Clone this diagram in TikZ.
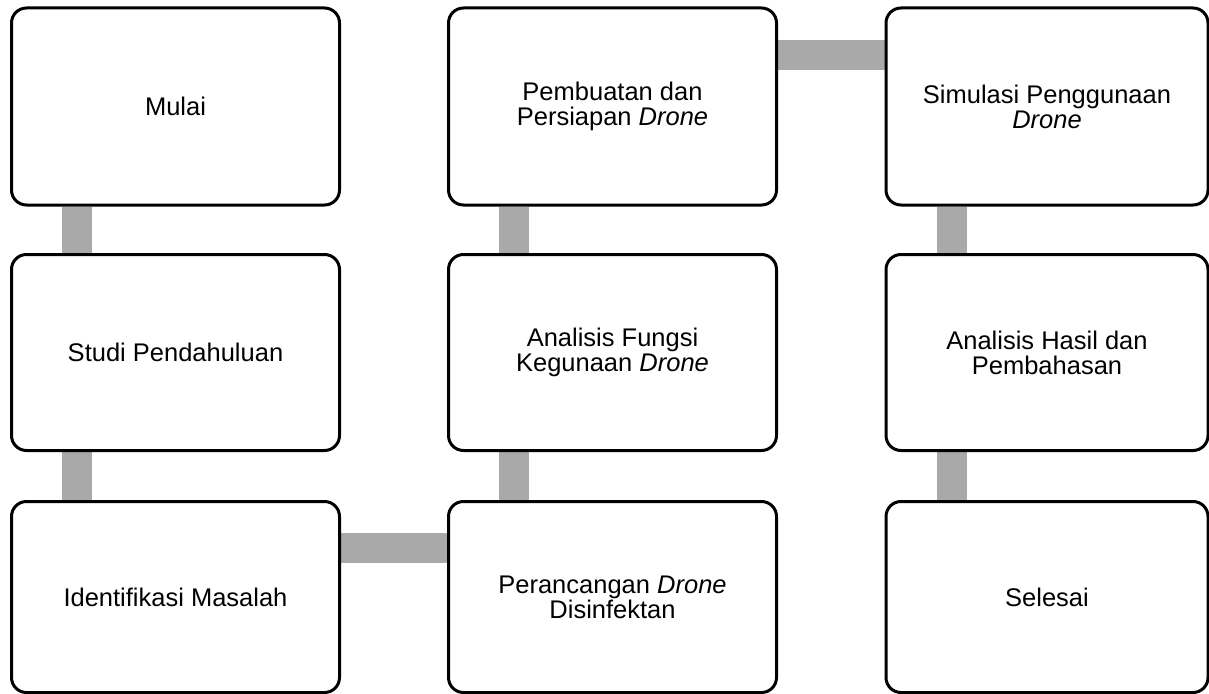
\documentclass[tikz,border=0pt]{standalone}
\usepackage{fontspec}
\setmainfont{Liberation Sans}
\usetikzlibrary{backgrounds}
\definecolor{bargray}{HTML}{A9A9A9}
\tikzset{
  x=1pt, y=-1pt,
  box/.style={draw=black, line width=3pt, fill=white, rounded corners=15pt,
    rectangle, align=center, anchor=north west, inner sep=0pt,
    font=\fontsize{25.5}{25}\selectfont, minimum width=328pt},
  bar/.style={draw=bargray, line width=30pt},
}
\begin{document}
\begin{tikzpicture}
\useasboundingbox (0,0) rectangle (1209,693);
% column 1
\node[box, minimum height=197pt] (mulai) at (10,6.5) {Mulai};
\node[box, minimum height=196pt] (studi) at (10,253) {Studi Pendahuluan};
\node[box, minimum height=191pt] (ident) at (10,500) {Identifikasi Masalah};
% column 2
\node[box, minimum height=197pt] (buat) at (447,6.5) {Pembuatan dan\\Persiapan \textit{Drone}};
\node[box, minimum height=196pt] (anal) at (447,253) {Analisis Fungsi\\Kegunaan \textit{Drone}};
\node[box, minimum height=191pt] (ranc) at (447,500) {Perancangan \textit{Drone}\\Disinfektan};
% column 3
\node[box, minimum width=322pt, minimum height=197pt] (simu) at (884.5,6.5) {Simulasi Penggunaan\\\textit{Drone}};
\node[box, minimum width=322pt, minimum height=196pt] (hasil) at (884.5,253) {Analisis Hasil dan\\Pembahasan};
\node[box, minimum width=322pt, minimum height=191pt] (selesai) at (884.5,500) {Selesai};
% connectors
\begin{scope}[on background layer]
\draw[bar] ([xshift=67pt]mulai.south west) -- ([xshift=67pt]studi.north west);
\draw[bar] ([xshift=67pt]studi.south west) -- ([xshift=67pt]ident.north west);
\draw[bar] ([yshift=-48pt]ident.north east) -- ([yshift=-48pt]ranc.north west);
\draw[bar] ([xshift=67pt]ranc.north west) -- ([xshift=67pt]anal.south west);
\draw[bar] ([xshift=67pt]anal.north west) -- ([xshift=67pt]buat.south west);
\draw[bar] ([yshift=-48.5pt]buat.north east) -- ([yshift=-48.5pt]simu.north west);
\draw[bar] ([xshift=67pt]simu.south west) -- ([xshift=67pt]hasil.north west);
\draw[bar] ([xshift=67pt]hasil.south west) -- ([xshift=67pt]selesai.north west);
\end{scope}
\end{tikzpicture}
\end{document}
